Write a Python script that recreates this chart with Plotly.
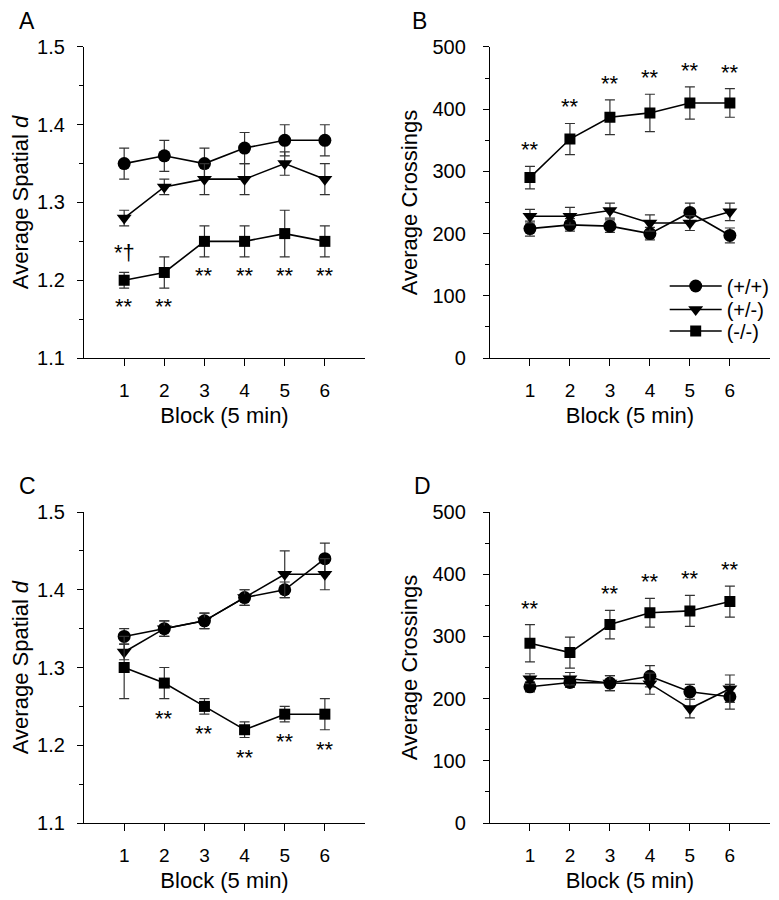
import plotly.graph_objects as go

blocks = [1, 2, 3, 4, 5, 6]
groups = ["(+/+)", "(+/-)", "(-/-)"]
symbols = ["circle", "triangle-down", "square"]
marker_sizes = [13, 13, 11]

# ── A: spatial d, session 1 ──
a_wt = [1.35, 1.36, 1.35, 1.37, 1.38, 1.38]
a_wt_se = [0.02, 0.02, 0.02, 0.02, 0.02, 0.02]
a_het = [1.28, 1.32, 1.33, 1.33, 1.35, 1.33]
a_het_se = [0.01, 0.01, 0.02, 0.02, 0.015, 0.02]
a_ko = [1.20, 1.21, 1.25, 1.25, 1.26, 1.25]
a_ko_se = [0.01, 0.02, 0.02, 0.02, 0.03, 0.02]
a_ko_sig = ["**", "**", "**", "**", "**", "**"]
a_het_sig = ["*†", "", "", "", "", ""]

# ── B: crossings, session 1 ──
b_wt = [208, 214, 212, 200, 234, 197]
b_wt_se = [12, 10, 10, 10, 15, 12]
b_het = [228, 228, 237, 217, 217, 235]
b_het_se = [11, 14, 12, 13, 12, 14]
b_ko = [290, 352, 387, 394, 410, 410]
b_ko_se = [18, 25, 28, 30, 26, 23]
b_ko_sig = ["**", "**", "**", "**", "**", "**"]

# ── C: spatial d, session 2 ──
c_wt = [1.34, 1.35, 1.36, 1.39, 1.40, 1.44]
c_wt_se = [0.01, 0.01, 0.01, 0.01, 0.01, 0.02]
c_het = [1.32, 1.35, 1.36, 1.39, 1.42, 1.42]
c_het_se = [0.01, 0.01, 0.01, 0.01, 0.03, 0.02]
c_ko = [1.30, 1.28, 1.25, 1.22, 1.24, 1.24]
c_ko_se = [0.04, 0.02, 0.01, 0.01, 0.01, 0.02]
c_ko_sig = ["", "**", "**", "**", "**", "**"]

# ── D: crossings, session 2 ──
d_wt = [219, 226, 225, 236, 211, 203]
d_wt_se = [8, 8, 12, 17, 12, 20]
d_het = [232, 232, 225, 224, 184, 216]
d_het_se = [8, 10, 12, 17, 15, 22]
d_ko = [289, 274, 319, 338, 341, 356]
d_ko_se = [30, 25, 23, 23, 25, 25]
d_ko_sig = ["**", "", "**", "**", "**", "**"]

FONT = "Liberation Sans, Arial, sans-serif"

# page body has an 8px margin, so domains are shifted up/left by that much
XL = [0.0976, 0.4583]
XR = [0.6187, 0.978]
YT = [0.6111, 0.9567]
YB = [0.0944, 0.44]

panels = [
    dict(letter="A", means=[a_wt, a_het, a_ko], errs=[a_wt_se, a_het_se, a_ko_se],
         sig=[(2, a_ko_sig, "below", -4), (1, a_het_sig, "below", -12)],
         ytitle="Average Spatial <i>d</i>", yrange=[1.1, 1.5], dtick=0.1, minor=0.05,
         xdom=XL, ydom=YT, lab_gap=8, title_gap=2, letter_dx=0.073),
    dict(letter="B", means=[b_wt, b_het, b_ko], errs=[b_wt_se, b_het_se, b_ko_se],
         sig=[(2, b_ko_sig, "above", 2)],
         ytitle="Average Crossings", yrange=[0, 500], dtick=100, minor=50,
         xdom=XR, ydom=YT, lab_gap=13, title_gap=8, letter_dx=0.091),
    dict(letter="C", means=[c_wt, c_het, c_ko], errs=[c_wt_se, c_het_se, c_ko_se],
         sig=[(2, c_ko_sig, "below", -5)],
         ytitle="Average Spatial <i>d</i>", yrange=[1.1, 1.5], dtick=0.1, minor=0.05,
         xdom=XL, ydom=YB, lab_gap=8, title_gap=2, letter_dx=0.073),
    dict(letter="D", means=[d_wt, d_het, d_ko], errs=[d_wt_se, d_het_se, d_ko_se],
         sig=[(2, d_ko_sig, "above", 2)],
         ytitle="Average Crossings", yrange=[0, 500], dtick=100, minor=50,
         xdom=XR, ydom=YB, lab_gap=13, title_gap=8, letter_dx=0.086),
]

# one legend per group so the rows can sit close together like the original
legend_ids = ["legend", "legend2", "legend3"]
legend_y = [0.6911, 0.6650, 0.6411]

fig = go.Figure()
annotations = []
layout_axes = {}

for i, p in enumerate(panels, start=1):
    xa = "x" if i == 1 else f"x{i}"
    ya = "y" if i == 1 else f"y{i}"
    for g in range(3):
        fig.add_trace(go.Scatter(
            x=blocks, y=p["means"][g], xaxis=xa, yaxis=ya,
            mode="lines+markers", name=groups[g],
            showlegend=(i == 2), legend=legend_ids[g],
            line=dict(color="black", width=1.6),
            marker=dict(symbol=symbols[g], size=marker_sizes[g], color="black"),
            error_y=dict(type="data", array=p["errs"][g], color="#333333",
                         thickness=1.2, width=5),
        ))
    # significance markers
    for g, labels, side, shift in p["sig"]:
        for x, m, e, lab in zip(blocks, p["means"][g], p["errs"][g], labels):
            if not lab:
                continue
            up = side == "above"
            annotations.append(dict(x=x, y=m + e if up else m - e, xref=xa, yref=ya,
                                    text=lab, showarrow=False,
                                    yanchor="bottom" if up else "top", yshift=shift,
                                    font=dict(size=22, color="black", family=FONT)))
    # panel letter
    annotations.append(dict(x=p["xdom"][0] - p["letter_dx"], y=p["ydom"][1] + 0.0285,
                            xref="paper", yref="paper", text=p["letter"],
                            showarrow=False, xanchor="center", yanchor="middle",
                            font=dict(size=23, color="black", family=FONT)))

    layout_axes["xaxis" if i == 1 else f"xaxis{i}"] = dict(
        domain=p["xdom"], anchor=ya, range=[0, 7], automargin=False,
        tickvals=blocks, ticks="outside", ticklen=7, tickwidth=1, tickcolor="black",
        showline=True, linecolor="black", linewidth=1.2,
        showgrid=False, zeroline=False, ticklabelstandoff=8,
        tickfont=dict(size=19, color="black", family=FONT),
        title=dict(text="Block (5 min)", font=dict(size=22, color="black", family=FONT),
                   standoff=7),
    )
    layout_axes["yaxis" if i == 1 else f"yaxis{i}"] = dict(
        domain=p["ydom"], anchor=xa, range=p["yrange"], dtick=p["dtick"],
        tick0=p["yrange"][0], automargin=False,
        ticks="outside", ticklen=6, tickwidth=1, tickcolor="black",
        minor=dict(dtick=p["minor"], ticks="outside", ticklen=4, tickcolor="black"),
        showline=True, linecolor="black", linewidth=1.2,
        showgrid=False, zeroline=False, ticklabelstandoff=p["lab_gap"],
        tickfont=dict(size=20, color="black", family=FONT),
        title=dict(text=p["ytitle"], font=dict(size=22, color="black", family=FONT),
                   standoff=p["title_gap"]),
    )

legends = {}
for lid, ly in zip(legend_ids, legend_y):
    legends[lid] = dict(x=0.843, y=ly, xanchor="left", yanchor="middle",
                        font=dict(size=20, color="black", family=FONT),
                        bgcolor="rgba(0,0,0,0)", itemwidth=52)

fig.update_layout(
    width=779, height=900,
    margin=dict(l=0, r=0, t=0, b=0, autoexpand=False),
    paper_bgcolor="white", plot_bgcolor="white",
    font=dict(family=FONT, color="black"),
    annotations=annotations,
    **legends,
    **layout_axes,
)

fig.write_html("out.html")
